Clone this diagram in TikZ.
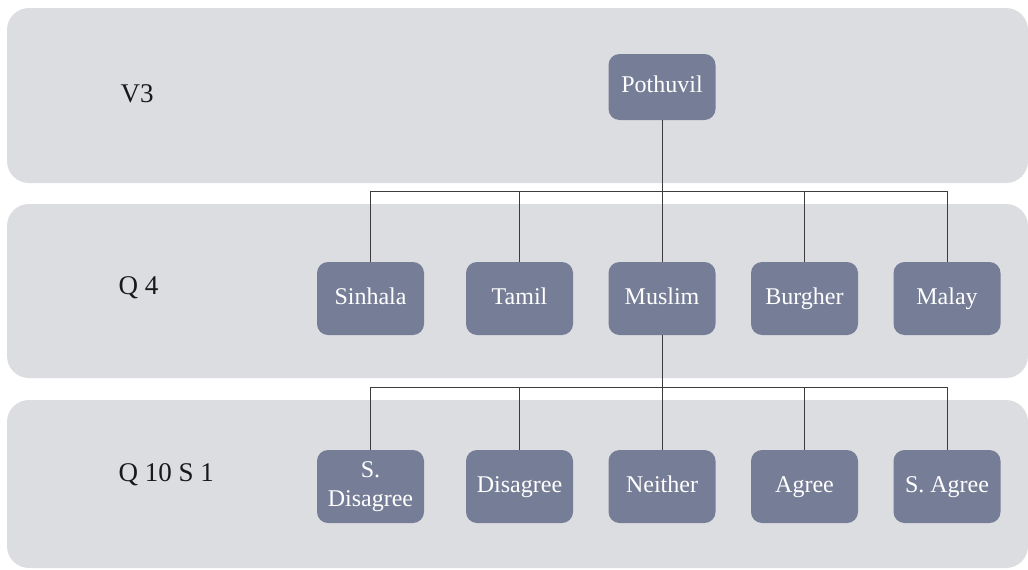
\documentclass[tikz,border=0pt]{standalone}
\usepackage{fontspec}
\setmainfont{Liberation Serif}
\definecolor{bandgray}{RGB}{220,221,225}
\definecolor{boxblue}{RGB}{118,126,151}
\definecolor{linegray}{RGB}{60,60,60}
\tikzset{
    band/.style={fill=bandgray, rounded corners=22pt},
    catbox/.style={fill=boxblue, rounded corners=11pt, minimum width=107pt,
        minimum height=73pt, inner sep=2pt, align=center, text=white,
        font=\fontsize{24}{29}\selectfont, text height=16pt, text depth=5pt},
    rowlabel/.style={anchor=base west, text=black!90,
        font=\fontsize{27}{32}\selectfont},
    tree/.style={draw=linegray, line width=0.9pt}}

\begin{document}
\begin{tikzpicture}[x=1pt, y=-1pt]

    \useasboundingbox (0,0) rectangle (1028,570);

    % bands
    \fill[band] (7,8) rectangle (1028,183);
    \fill[band] (7,204) rectangle (1028,378);
    \fill[band] (7,400) rectangle (1028,568);

    % row labels
    \node[rowlabel] (lv3) at (117,102) {V3};
    \node[rowlabel] (lq4) at (115,294) {Q 4};
    \node[rowlabel] (lq10) at (115,481) {Q 10 S 1};

    % top
    \node[catbox, minimum height=66pt] (pothuvil) at (662,87) {Pothuvil};

    % ethnicity
    \node[catbox] (sinhala) at (370.5,298.5) {Sinhala};
    \node[catbox] (tamil) at (519.5,298.5) {Tamil};
    \node[catbox] (muslim) at (662,298.5) {Muslim};
    \node[catbox] (burgher) at (804.5,298.5) {Burgher};
    \node[catbox] (malay) at (947,298.5) {Malay};

    % answers
    \node[catbox, text height=, text depth=] (sdis) at (370.5,486.5) {S.\\Disagree};
    \node[catbox] (dis) at (519.5,486.5) {Disagree};
    \node[catbox] (nei) at (662,486.5) {Neither};
    \node[catbox] (agr) at (804.5,486.5) {Agree};
    \node[catbox] (sagr) at (947,486.5) {S. Agree};

    % connectors
    \draw[tree] (pothuvil.south) -- ++(0,71) coordinate (bar1);
    \foreach \n in {sinhala,tamil,muslim,burgher,malay}
        \draw[tree] (bar1) -| (\n.north);

    \draw[tree] (muslim.south) -- ++(0,52) coordinate (bar2);
    \foreach \n in {sdis,dis,nei,agr,sagr}
        \draw[tree] (bar2) -| (\n.north);

\end{tikzpicture}
\end{document}
